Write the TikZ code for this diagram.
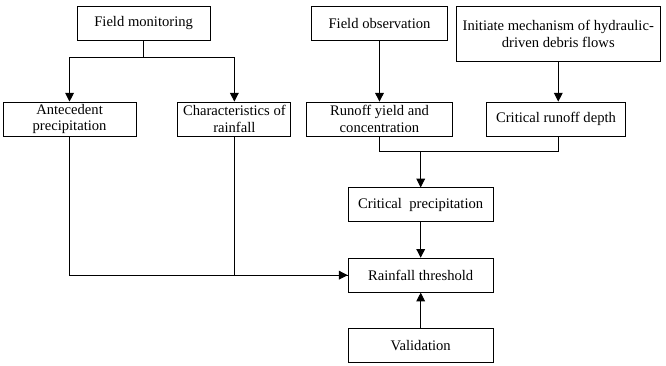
\documentclass[tikz,border=0pt]{standalone}
\usepackage{fontspec}
\setmainfont{Liberation Serif}
\usepackage{tikz}
\usetikzlibrary{positioning,arrows.meta,calc}

\begin{document}
\begin{tikzpicture}[
	every node/.style={font=\fontsize{11}{12.6}\selectfont},
	box/.style={draw, line width=0.7pt, align=center, inner sep=1.5pt, minimum height=0.9cm},
	arrow/.style={-{Triangle[length=2.3mm,width=2.3mm]}, line width=0.7pt},
	link/.style={line width=0.7pt}
	]
	\useasboundingbox (0,0) rectangle (17.62,-9.66);
	
	\node[box, minimum width=3.52cm] (monitor) at (3.80,-0.61) {Field monitoring};
	\node[box, minimum width=3.60cm] (observe) at (10.04,-0.61) {Field observation};
	\node[box, minimum width=5.40cm, minimum height=1.46cm] (mech) at (14.77,-0.89) {Initiate mechanism of hydraulic-\\driven debris flows};
	
	\node[box, minimum width=3.52cm] (antec) at (1.84,-3.15) {Antecedent\\precipitation};
	\node[box, minimum width=2.99cm] (charac) at (6.20,-3.15) {Characteristics of\\rainfall};
	\node[box, minimum width=3.84cm] (runoff) at (10.04,-3.15) {Runoff yield and\\concentration};
	\node[box, minimum width=3.70cm] (depth) at (14.71,-3.15) {Critical runoff depth};
	
	\node[box, minimum width=3.84cm] (critp) at (11.13,-5.42) {Critical\hspace{0.5em}precipitation};
	\node[box, minimum width=3.84cm] (thresh) at (11.13,-7.28) {Rainfall threshold};
	\node[box, minimum width=3.84cm] (valid) at (11.13,-9.13) {Validation};
	
	\coordinate (split) at ($(monitor.south)+(0,-0.45)$);
	\coordinate (join) at (critp.north |- 0,-4.02);
	
	\draw[link] (monitor.south) -- (split);
	\draw[arrow] (split) -| (antec.north);
	\draw[arrow] (split) -| (charac.north);
	
	\draw[arrow] (observe.south) -- (runoff.north);
	\draw[arrow] (mech.south) -- (mech.south |- depth.north);
	
	\draw[link] (runoff.south) |- (join) -| (mech.south |- depth.south);
	\draw[arrow] (join) -- (critp.north);
	\draw[arrow] (critp) -- (thresh);
	\draw[arrow] (valid) -- (thresh);
	
	\draw[link] (antec.south) |- (thresh.west);
	\draw[arrow] (charac.south) |- (thresh.west);
	
\end{tikzpicture}
\end{document}
